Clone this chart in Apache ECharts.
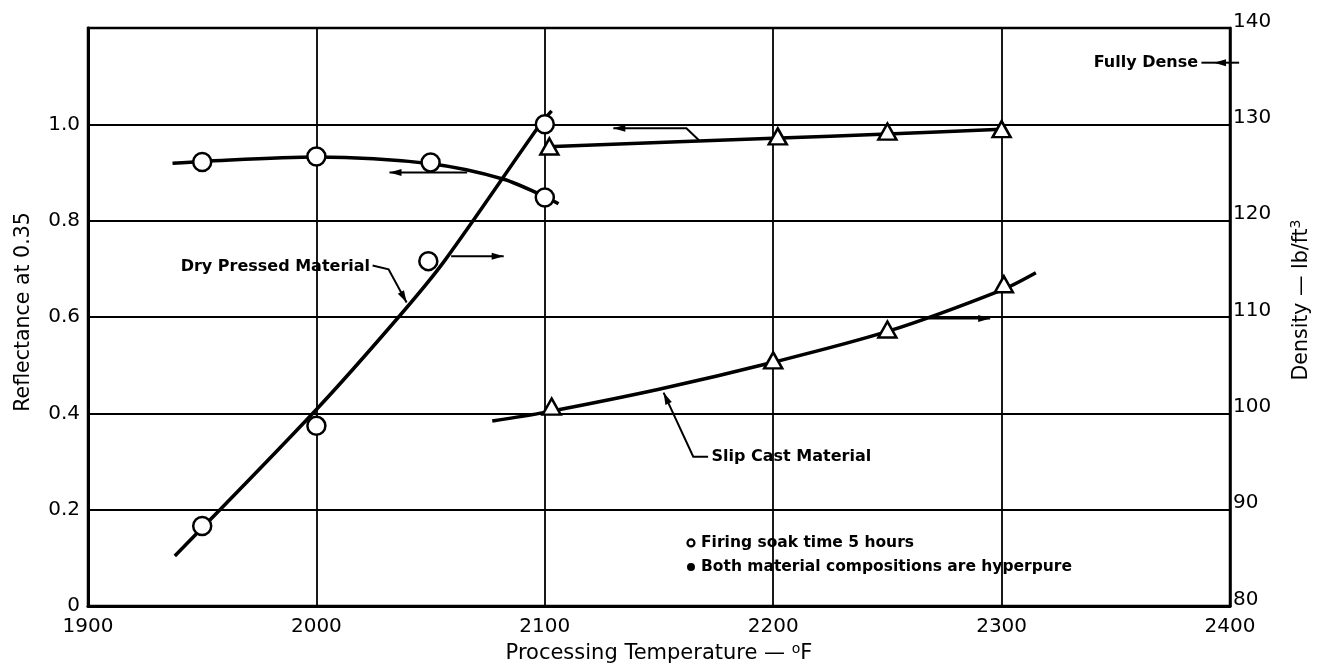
<!DOCTYPE html>
<html><head><meta charset="utf-8">
<script src="https://cdn.jsdelivr.net/npm/echarts@6/dist/echarts.min.js"></script>
<style>html,body{margin:0;padding:0;background:#fff}#c{width:1321px;height:665px}</style>
</head><body><div id="c"></div>
<script>
// ---- axis ticks ----
const xTicks = [1900, 2000, 2100, 2200, 2300, 2400];
const reflTicks = [0, 0.2, 0.4, 0.6, 0.8, 1.0, 1.2];
const densTicks = [80, 90, 100, 110, 120, 130, 140];

const dryReflPts  = [[1950, 0.922], [2000, 0.933], [2050, 0.921], [2100, 0.848]];
const dryDensPts  = [[1950, 88.3], [2000, 98.7], [2049, 115.8], [2100, 130.0]];
const slipReflPts = [[2102, 0.954], [2202, 0.975], [2250, 0.985], [2300, 0.990]];
const slipDensPts = [[2103, 100.7], [2200, 105.5], [2250, 108.7], [2301, 113.4]];

// ---- faired curves ----
const dryReflCurve  = [[1937, 0.919], [1950, 0.923], [2000, 0.932], [2050, 0.918], [2082, 0.886], [2100, 0.850], [2106, 0.835]];
const dryDensCurve  = [[1938, 85.2], [2000, 100.4], [2036, 110.0], [2056, 115.8], [2098, 130.0], [2103, 131.4]];
const slipReflCurve = [[2104, 0.954], [2200, 0.971], [2250, 0.980], [2300, 0.990]];
const slipDensCurve = [[2077, 99.2], [2100, 100.1], [2150, 102.5], [2200, 105.3], [2250, 108.5], [2300, 112.8], [2315, 114.6]];

// ---- texts ----
const xTitle = 'Processing Temperature — ';
const yLeftTitle = 'Reflectance at 0.35';
const yRightTitle = 'Density — lb/ft';
const labelDry = 'Dry Pressed Material';
const labelSlip = 'Slip Cast Material';
const labelDense = 'Fully Dense';
const notes = ['Firing soak time 5 hours', 'Both material compositions are hyperpure'];

const FONT = 'DejaVu Sans';
const chart = echarts.init(document.getElementById('c'), null, {renderer: 'canvas'});

const lineStyle = {color: '#000', width: 3.5};
const hollow = {color: '#fff', borderColor: '#000', borderWidth: 2.5, opacity: 1};

chart.setOption({
  animation: false,
  backgroundColor: '#fff',
  grid: {left: 88, right: 91, top: 28, bottom: 59, show: true, borderColor: '#000', borderWidth: 2.5, containLabel: false, outerBoundsMode: 'none'},
  xAxis: {
    type: 'value', min: xTicks[0], max: xTicks[xTicks.length - 1], interval: 100,
    axisLine: {show: true, lineStyle: {color: '#000', width: 3}},
    axisTick: {show: false},
    axisLabel: {color: '#000', fontSize: 20, fontFamily: FONT, margin: 11, formatter: v => String(v)},
    splitLine: {show: true, lineStyle: {color: '#000', width: 1.8}}
  },
  yAxis: [{
    type: 'value', min: reflTicks[0], max: reflTicks[reflTicks.length - 1], interval: 0.2, position: 'left',
    axisLine: {show: true, lineStyle: {color: '#000', width: 3}},
    axisTick: {show: false},
    axisLabel: {color: '#000', fontSize: 20, fontFamily: FONT, margin: 8,
      formatter: v => (Math.abs(v - 1.2) < 1e-6 ? '' : (v === 0 ? '0' : v.toFixed(1)))},
    splitLine: {show: true, lineStyle: {color: '#000', width: 1.8}}
  }, {
    type: 'value', min: densTicks[0], max: densTicks[densTicks.length - 1], interval: 10, position: 'right',
    axisLine: {show: true, lineStyle: {color: '#000', width: 2.5}},
    axisTick: {show: false},
    axisLabel: {color: '#000', fontSize: 20, fontFamily: FONT, margin: 3, verticalAlign: 'bottom', lineHeight: 13},
    splitLine: {show: false}
  }],
  series: [
    {type: 'line', yAxisIndex: 0, data: dryReflCurve, smooth: 0.3, showSymbol: false, lineStyle: lineStyle, z: 3},
    {type: 'line', yAxisIndex: 1, data: dryDensCurve, smooth: 0.3, showSymbol: false, lineStyle: lineStyle, z: 3},
    {type: 'line', yAxisIndex: 0, data: slipReflCurve, smooth: 0.3, showSymbol: false, lineStyle: lineStyle, z: 3},
    {type: 'line', yAxisIndex: 1, data: slipDensCurve, smooth: 0.3, showSymbol: false, lineStyle: lineStyle, z: 3},
    {type: 'scatter', yAxisIndex: 0, data: dryReflPts, symbol: 'circle', symbolSize: 18, itemStyle: hollow, z: 5},
    {type: 'scatter', yAxisIndex: 1, data: dryDensPts, symbol: 'circle', symbolSize: 18, itemStyle: hollow, z: 5},
    {type: 'scatter', yAxisIndex: 0, data: slipReflPts, symbol: 'triangle', symbolSize: [18, 16], itemStyle: hollow, z: 5},
    {type: 'scatter', yAxisIndex: 1, data: slipDensPts, symbol: 'triangle', symbolSize: [18, 16], itemStyle: hollow, z: 5}
  ]
});

// ---- annotations placed in data coordinates ----
const P = (x, y, ax) => chart.convertToPixel({xAxisIndex: 0, yAxisIndex: ax || 0}, [x, y]);
const arrowDefs = [
  {ax: 0, pts: [[2066, 0.900], [2032, 0.900]]},
  {ax: 0, pts: [[2059, 0.726], [2082, 0.726]]},
  {ax: 0, pts: [[2167.5, 0.967], [2162, 0.992], [2130, 0.992]]},
  {ax: 0, pts: [[2268, 0.597], [2295, 0.597]]},
  {ax: 0, pts: [[2024.6, 0.707], [2031.6, 0.699], [2039.5, 0.63]]},
  {ax: 0, pts: [[2171.5, 0.31], [2165, 0.31], [2152, 0.443]]},
  {ax: 1, pts: [[2404, 136.4], [2393, 136.4]], extra: [[2393, 136.4], [2387.5, 136.4]]}
];
const graphics = [];
function head(tip, from, len, w) {
  const dx = tip[0] - from[0], dy = tip[1] - from[1];
  const d = Math.hypot(dx, dy) || 1;
  const ux = dx / d, uy = dy / d;
  const bx = tip[0] - ux * len, by = tip[1] - uy * len;
  return [tip, [bx - uy * w, by + ux * w], [bx + uy * w, by - ux * w]];
}
arrowDefs.forEach(a => {
  const px = a.pts.map(p => P(p[0], p[1], a.ax));
  graphics.push({type: 'polyline', shape: {points: px}, style: {stroke: '#000', lineWidth: 2, fill: null}, z: 10});
  const n = px.length;
  graphics.push({type: 'polygon', shape: {points: head(px[n - 1], px[n - 2], 12, 3.5)}, style: {fill: '#000'}, z: 10});
  if (a.extra) {
    graphics.push({type: 'polyline', shape: {points: a.extra.map(p => P(p[0], p[1], a.ax))}, style: {stroke: '#000', lineWidth: 2, fill: null}, z: 10});
  }
});
function txt(s, pos, align, size, weight) {
  return {type: 'text', x: pos[0], y: pos[1], z: 11,
    style: {text: s, fill: '#000', fontSize: size, fontFamily: FONT, fontWeight: weight || 'bold', align: align, verticalAlign: 'middle'}};
}
graphics.push(txt(labelDry, P(2023.5, 0.705), 'right', 16));
graphics.push(txt(labelSlip, P(2173, 0.31), 'left', 16));
graphics.push(txt(labelDense, P(2386, 136.4, 1), 'right', 16));
const n1 = P(2168.4, 0.131), n2 = P(2168.4, 0.081);
graphics.push(txt(notes[0], n1, 'left', 15.5));
graphics.push(txt(notes[1], n2, 'left', 15.5));
const b1 = P(2164, 0.131), b2 = P(2164, 0.081);
graphics.push({type: 'circle', shape: {cx: b1[0], cy: b1[1], r: 3.5}, style: {fill: '#fff', stroke: '#000', lineWidth: 2.2}, z: 11});
graphics.push({type: 'circle', shape: {cx: b2[0], cy: b2[1], r: 4}, style: {fill: '#000'}, z: 11});

// axis titles
graphics.push({type: 'text', x: 24, y: 312, rotation: Math.PI / 2, z: 11,
  style: {text: yLeftTitle, fill: '#000', fontSize: 20.5, fontFamily: FONT, align: 'center', verticalAlign: 'middle'}});
graphics.push({type: 'text', x: 1302, y: 300, rotation: Math.PI / 2, z: 11,
  style: {text: '{n|' + yRightTitle + '}{s|3}', fill: '#000', fontFamily: FONT, align: 'center', verticalAlign: 'middle',
    rich: {n: {fontSize: 20.5, fontFamily: FONT, fill: '#000', lineHeight: 26}, s: {fontSize: 14, fontFamily: FONT, fill: '#000', verticalAlign: 'top'}}}});
graphics.push({type: 'text', x: 659, y: 654, z: 11,
  style: {text: '{n|' + xTitle + '}{s|o}{n|F}', fill: '#000', fontFamily: FONT, align: 'center', verticalAlign: 'middle',
    rich: {n: {fontSize: 21, fontFamily: FONT, fill: '#000', lineHeight: 24}, s: {fontSize: 14, fontFamily: FONT, fill: '#000', verticalAlign: 'top'}}}});

chart.setOption({graphic: {elements: graphics}});
</script>
</body></html>
